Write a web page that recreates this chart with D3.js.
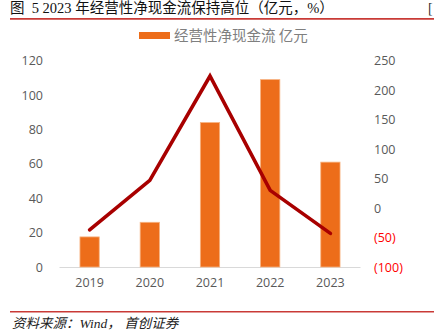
<!DOCTYPE html>
<html>
<head>
<meta charset="utf-8">
<script src="https://cdn.jsdelivr.net/npm/d3@7/dist/d3.min.js"></script>
<style>
  html, body { margin: 0; padding: 0; background: #fff; }
  svg { display: block; }
  text.pre { white-space: pre; }
</style>
</head>
<body>
<svg id="chart" width="434" height="332"></svg>
<script>
// Operating net cash flow (bars, left axis, 亿元) and growth rate (line, right axis, %)
const years = ["2019", "2020", "2021", "2022", "2023"];
const cashFlow = [17.5, 26, 84, 109, 61];
const growth = [-37, 47, 224, 30, -43];
const leftTicks = [0, 20, 40, 60, 80, 100, 120];
const rightTicks = [-100, -50, 0, 50, 100, 150, 200, 250];

const titleText = "图  5 2023 年经营性净现金流保持高位（亿元，%）";
const legendText = "经营性净现金流 亿元";
const sourceText = "资料来源：Wind， 首创证券";

const svg = d3.select("#chart");
const plot = { left: 59.5, right: 360.5, top: 60.7, bottom: 267 };

const x = d3.scaleBand().domain(years).range([plot.left, plot.right]).paddingInner(0.68).paddingOuter(0.34);
const yL = d3.scaleLinear().domain([0, 120]).range([plot.bottom, plot.top]);
const yR = d3.scaleLinear().domain([-100, 250]).range([plot.bottom, plot.top]);

const cjk = "'Noto Sans CJK SC', sans-serif";
const tickFont = "'Open Sans', 'Liberation Sans', sans-serif";

// Title
svg.append("text").attr("class", "pre").attr("x", 10).attr("y", 12.5)
  .style("font-family", "'Liberation Serif', 'Noto Sans CJK SC', serif")
  .style("font-size", "14.5px").attr("fill", "#111")
  .text(titleText);
svg.append("text").attr("x", 428).attr("y", 12.5)
  .style("font-family", "'Liberation Serif', serif")
  .style("font-size", "14px").attr("fill", "#333").text("[");
svg.append("line").attr("x1", 10).attr("x2", 434).attr("y1", 18.8).attr("y2", 18.8)
  .attr("stroke", "#c93a36").attr("stroke-width", 1.8);

// Legend
svg.append("rect").attr("x", 139).attr("y", 32).attr("width", 31).attr("height", 7)
  .attr("fill", "#ed6d1a");
svg.append("text").attr("x", 174).attr("y", 40.5)
  .style("font-family", cjk).style("font-size", "14.5px").attr("fill", "#7f7f7f")
  .text(legendText);

// Baseline of the category axis
svg.append("line").attr("x1", plot.left).attr("x2", plot.right)
  .attr("y1", yL(0) + 0.5).attr("y2", yL(0) + 0.5)
  .attr("stroke", "#d9d9d9").attr("stroke-width", 1);

// Bars
svg.append("g").selectAll("rect").data(years).join("rect")
  .attr("x", d => x(d))
  .attr("width", x.bandwidth())
  .attr("y", (d, i) => yL(cashFlow[i]))
  .attr("height", (d, i) => yL(0) - yL(cashFlow[i]))
  .attr("fill", "#ed6d1a")
  .attr("stroke", "#f7b27f").attr("stroke-width", 0.8);

// Growth line
const line = d3.line()
  .x((d, i) => x(years[i]) + x.bandwidth() / 2)
  .y(d => yR(d));
svg.append("path").datum(growth)
  .attr("d", line)
  .attr("fill", "none")
  .attr("stroke", "#a80000")
  .attr("stroke-width", 3.6)
  .attr("stroke-linejoin", "miter")
  .attr("stroke-linecap", "round");

// Left axis
const leftAxis = d3.axisLeft(yL).tickValues(leftTicks).tickSize(0).tickPadding(0);
const gL = svg.append("g").attr("transform", `translate(43,0)`).call(leftAxis);
gL.select(".domain").remove();
gL.selectAll("text").style("font-family", tickFont).style("font-size", "12.5px").attr("fill", "#595959");

// Right axis
const fmtR = v => v < 0 ? `(${Math.abs(v)})` : `${v}`;
const rightAxis = d3.axisRight(yR).tickValues(rightTicks).tickSize(0).tickPadding(0).tickFormat(fmtR);
const gR = svg.append("g").attr("transform", `translate(374,0)`).call(rightAxis);
gR.select(".domain").remove();
gR.selectAll("text").style("font-family", tickFont).style("font-size", "12.5px")
  .attr("fill", d => d < 0 ? "#ff0000" : "#595959");

// Category axis
const bottomAxis = d3.axisBottom(x).tickSize(0).tickPadding(0);
const gB = svg.append("g").attr("transform", `translate(0,${yL(0) + 11})`).call(bottomAxis);
gB.select(".domain").remove();
gB.selectAll("text").style("font-family", tickFont).style("font-size", "12.5px").attr("fill", "#595959");

// Footer
svg.append("line").attr("x1", 10).attr("x2", 434).attr("y1", 311.8).attr("y2", 311.8)
  .attr("stroke", "#c93a36").attr("stroke-width", 1.6);
svg.append("text").attr("class", "pre").attr("x", 12).attr("y", 327.5)
  .style("font-family", "'Liberation Serif', 'Noto Sans CJK SC', serif")
  .style("font-style", "italic")
  .style("font-size", "13.5px").attr("fill", "#222")
  .text(sourceText);
</script>
</body>
</html>
